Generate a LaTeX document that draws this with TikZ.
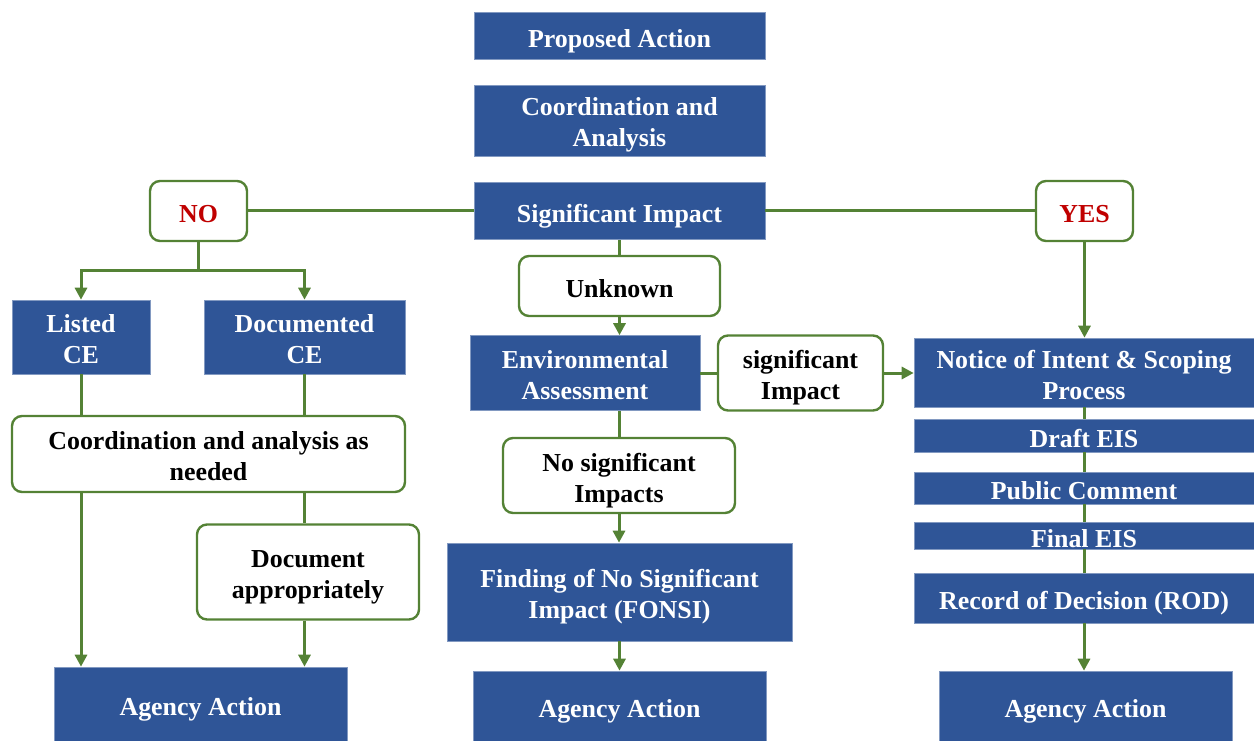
\documentclass[tikz,border=0pt]{standalone}
\usepackage{fontspec}
\setmainfont{Liberation Serif}
\usetikzlibrary{arrows.meta}
\definecolor{boxblue}{HTML}{2F5597}
\definecolor{linegreen}{HTML}{548235}
\definecolor{answerred}{HTML}{C00000}

\begin{document}
\begin{tikzpicture}[x=1pt,y=-1pt,>={Triangle[length=12pt,width=12pt]}]
		\tikzstyle{every node}=[font=\fontsize{25.9}{31}\selectfont\bfseries,inner sep=0pt,align=center,text depth=0pt]
		\tikzstyle{every edge}=[draw,color=linegreen,line width=3pt]
		\tikzstyle{oneline}=[text height=23.5pt]
		\tikzstyle{twoline}=[text height=53pt]
		\tikzstyle{bluebox}=[fill=boxblue,draw=boxblue!60!white,line width=0.6pt,text=white]
		\tikzstyle{greenbox}=[fill=white,draw=linegreen,line width=2.4pt,rounded corners=10pt]
		\tikzstyle{flow}=[draw=linegreen,line width=3pt]

		\useasboundingbox (0,0) rectangle (1254,741);

		% centre column
		\node (proposed) at (619.5,35.5) [bluebox,oneline,minimum width=291pt,minimum height=47pt] {Proposed Action};
		\node (coordana) at (619.5,120.5) [bluebox,twoline,minimum width=291pt,minimum height=71pt] {Coordination and\\Analysis};
		\node (sig) at (619.5,211) [bluebox,oneline,minimum width=291pt,minimum height=57pt] {Significant Impact};
		\node (unknown) at (619.5,286) [greenbox,oneline,minimum width=201pt,minimum height=60pt] {Unknown};
		\node (ea) at (585,373) [bluebox,twoline,minimum width=230pt,minimum height=75pt] {Environmental\\Assessment};
		\node (sigimp) at (800.5,373) [greenbox,twoline,minimum width=165pt,minimum height=75pt] {significant\\Impact};
		\node (nosig) at (619,475.5) [greenbox,twoline,minimum width=232pt,minimum height=75pt] {No significant\\Impacts};
		\node (fonsi) at (619.5,592) [bluebox,twoline,minimum width=345pt,minimum height=98pt] {Finding of No Significant\\Impact (FONSI)};
		\node (agencyM) at (619.5,706) [bluebox,oneline,minimum width=293pt,minimum height=70pt] {Agency Action};

		% NO branch
		\node (no) at (198.5,211) [greenbox,oneline,minimum width=97pt,minimum height=60pt,text=answerred] {NO};
		\coordinate (split) at (198.5,270);
		\node (listed) at (81,337) [bluebox,twoline,minimum width=138pt,minimum height=74pt] {Listed\\CE};
		\node (documented) at (304.5,337) [bluebox,twoline,minimum width=201pt,minimum height=74pt] {Documented\\CE};
		\node (coordneed) at (208.5,454) [greenbox,twoline,minimum width=393pt,minimum height=76pt] {Coordination and analysis as\\needed};
		\node (docapp) at (308,572) [greenbox,twoline,minimum width=222pt,minimum height=95pt] {Document\\appropriately};
		\node (agencyL) at (200.5,704) [bluebox,oneline,minimum width=293pt,minimum height=74pt] {Agency Action};

		% YES branch
		\node (yes) at (1084.5,211) [greenbox,oneline,minimum width=97pt,minimum height=60pt,text=answerred] {YES};
		\node (noi) at (1084,372.5) [bluebox,twoline,minimum width=340pt,minimum height=69pt] {Notice of Intent \& Scoping\\Process};
		\node (draft) at (1084,435.5) [bluebox,oneline,minimum width=340pt,minimum height=33pt] {Draft EIS};
		\node (public) at (1084,488) [bluebox,oneline,minimum width=340pt,minimum height=32pt] {Public Comment};
		\node (final) at (1084,535.5) [bluebox,oneline,minimum width=340pt,minimum height=27pt] {Final EIS};
		\node (rod) at (1084,598) [bluebox,oneline,minimum width=340pt,minimum height=50pt] {Record of Decision (ROD)};
		\node (agencyR) at (1085.5,706) [bluebox,oneline,minimum width=293pt,minimum height=70pt] {Agency Action};

		\path (sig) edge (no) edge (yes);
		\path (sig.south) edge (unknown.north);
		\path [->] (unknown.south) edge (unknown.south |- ea.north);
		\path (ea.east) edge (ea.east -| sigimp.west);
		\path [->] (sigimp.east) edge (sigimp.east -| noi.west);
		\path (nosig.north |- ea.south) edge (nosig.north);
		\path [->] (nosig.south) edge (nosig.south |- fonsi.north);
		\path [->] (fonsi.south) edge (fonsi.south |- agencyM.north);

		\draw [flow, ->] (no.south) -- (split) -| (listed.north);
		\draw [flow, ->] (split) -| (documented.north);
		\path (listed.south) edge (listed.south |- coordneed.north);
		\path (documented.south) edge (documented.south |- coordneed.north);
		\path [->] (listed.south |- coordneed.south) edge (listed.south |- agencyL.north);
		\path (documented.south |- coordneed.south) edge (documented.south |- docapp.north);
		\path [->] (documented.south |- docapp.south) edge (documented.south |- agencyL.north);

		\path [->] (yes.south) edge (yes.south |- noi.north);
		\foreach \a/\b in {noi/draft, draft/public, public/final, final/rod}
			\path (\a.south) edge (\b.north);
		\path [->] (rod.south) edge (rod.south |- agencyR.north);
	\end{tikzpicture}
\end{document}
